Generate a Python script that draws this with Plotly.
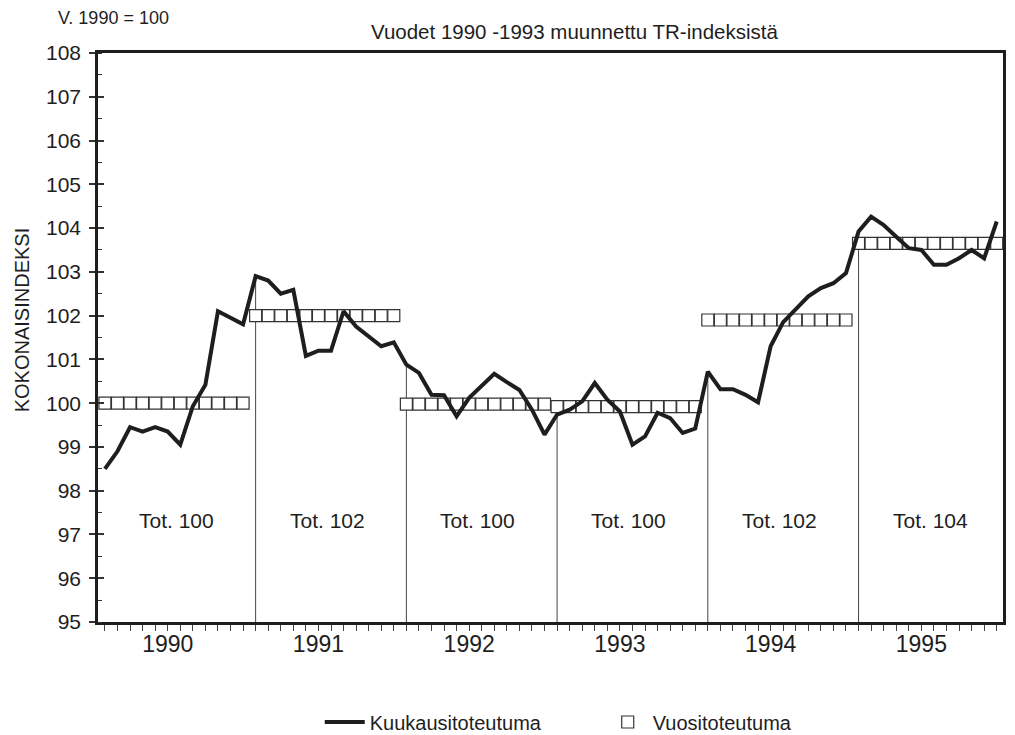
import plotly.graph_objects as go

years = ["1990", "1991", "1992", "1993", "1994", "1995"]
monthly = [
    98.5, 98.9, 99.45, 99.35, 99.45, 99.35, 99.05, 99.93, 100.42, 102.1, 101.95, 101.8,
    102.9, 102.8, 102.5, 102.59, 101.08, 101.2, 101.2, 102.1, 101.75, 101.52, 101.3, 101.39,
    100.88, 100.69, 100.19, 100.18, 99.70, 100.12, 100.39, 100.67, 100.48, 100.3, 99.85, 99.28,
    99.74, 99.85, 100.04, 100.46, 100.08, 99.81, 99.05, 99.24, 99.78, 99.66, 99.32, 99.42,
    100.72, 100.32, 100.32, 100.19, 100.02, 101.3, 101.85, 102.13, 102.44, 102.63, 102.74, 102.97,
    103.92, 104.26, 104.07, 103.8, 103.54, 103.5, 103.16, 103.16, 103.31, 103.5, 103.31, 104.15,
]
annual = [100.0, 102.0, 99.98, 99.92, 101.9, 103.65]
totals = ["Tot. 100", "Tot. 102", "Tot. 100", "Tot. 100", "Tot. 102", "Tot. 104"]

FONT = "Liberation Sans, Arial, sans-serif"
INK = "#1e1e1e"

months = list(range(len(monthly)))
annual_x = months
annual_y = [annual[i // 12] for i in months]

fig = go.Figure()

# year boundary drop lines (from data at January of each year down to axis)
vx, vy = [], []
for k in range(1, len(years)):
    m = 12 * k
    vx += [m, m, None]
    vy += [95, monthly[m], None]
fig.add_trace(go.Scatter(x=vx, y=vy, mode="lines", line=dict(color="#444444", width=1),
                         showlegend=False, hoverinfo="skip"))

fig.add_trace(go.Scatter(
    x=annual_x, y=annual_y, mode="markers", name="Vuositoteutuma",
    marker=dict(symbol="square", size=12, color="white", line=dict(color="#333333", width=1.2)),
    legendrank=2,
))

fig.add_trace(go.Scatter(
    x=months, y=monthly, mode="lines", name="Kuukausitoteutuma",
    line=dict(color=INK, width=4), legendrank=1,
))

ticktext = [years[i // 12] if i % 12 == 5 else "" for i in months]

fig.update_layout(
    width=1015, height=735,
    margin=dict(l=98, r=12, t=53, b=113, autoexpand=False),
    paper_bgcolor="white", plot_bgcolor="white",
    font=dict(family=FONT, color=INK),
    showlegend=True,
    legend=dict(orientation="h", x=0.245, xanchor="left", y=1 - 722 / 735, yanchor="middle",
                yref="container", entrywidth=228, entrywidthmode="pixels",
                font=dict(size=20, family=FONT, color=INK), itemwidth=40),
    xaxis=dict(
        range=[-0.55, 71.5], showgrid=False, zeroline=False,
        tickmode="array", tickvals=months, ticktext=ticktext,
        ticks="outside", ticklen=6, tickwidth=1, tickcolor="#444",
        tickfont=dict(size=23, family=FONT, color=INK), ticklabelstandoff=-6,
        showline=True, linecolor=INK, linewidth=2.5, mirror=True,
    ),
    yaxis=dict(
        range=[95, 108], dtick=1, showgrid=False, zeroline=False,
        ticks="outside", ticklen=6, tickwidth=1.5, tickcolor="#333",
        tickfont=dict(size=21, family=FONT, color=INK), ticklabelstandoff=4,
        minor=dict(dtick=0.5, ticks="inside", ticklen=4, tickcolor="#333", tickwidth=1),
        showline=True, linecolor=INK, linewidth=2.5, mirror=True,
    ),
    yaxis2=dict(
        range=[95, 108], dtick=1, overlaying="y", side="left", showgrid=False,
        zeroline=False, showticklabels=False, ticks="inside", ticklen=6,
        tickwidth=1.5, tickcolor="#333", showline=False,
    ),
)

# invisible helper trace to activate yaxis2 (inner half of crossing ticks)
fig.add_trace(go.Scatter(x=[0], y=[95], yaxis="y2", mode="markers",
                         marker=dict(opacity=0), showlegend=False, hoverinfo="skip"))

for k, t in enumerate(totals):
    fig.add_annotation(x=12 * k + 5.7, y=97.32, text=t, showarrow=False,
                       xanchor="center", yanchor="middle",
                       font=dict(size=21, family=FONT, color=INK))

fig.add_annotation(xref="paper", yref="paper", x=0.526, y=1.038, text="Vuodet 1990 -1993 muunnettu TR-indeksistä",
                   xanchor="center", yanchor="middle",
                   showarrow=False, font=dict(size=20.5, family=FONT, color=INK))
fig.add_annotation(xref="paper", yref="paper", x=0.0166, y=1.061, text="V. 1990 = 100",
                   xanchor="center", yanchor="middle",
                   showarrow=False, font=dict(size=18, family=FONT, color=INK))
fig.add_annotation(xref="paper", yref="paper", x=-0.084, y=0.532, text="KOKONAISINDEKSI",
                   xanchor="center", yanchor="middle",
                   textangle=-90, showarrow=False, font=dict(size=20, family=FONT, color=INK))

fig.write_html("out.html", config={"displayModeBar": False},
               post_script="document.body.style.margin='0';document.body.style.overflow='hidden';")
